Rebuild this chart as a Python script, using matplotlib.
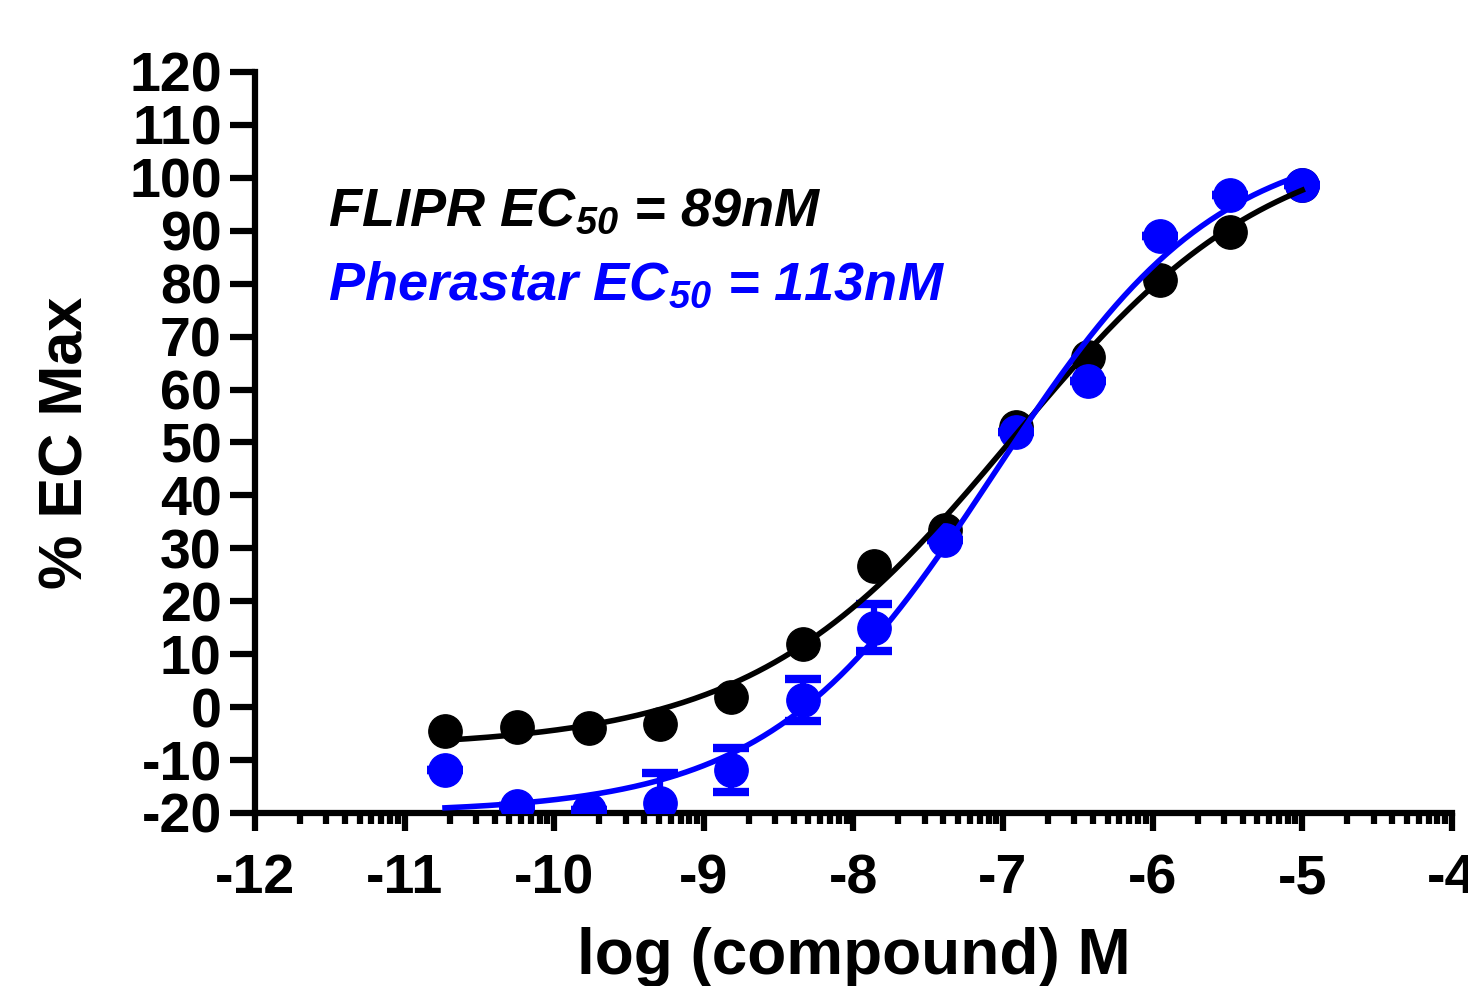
import numpy as np
import matplotlib
matplotlib.use("Agg")
import matplotlib.pyplot as plt

plt.rcParams['font.family'] = ['Liberation Sans', 'DejaVu Sans']
plt.rcParams['mathtext.fontset'] = 'custom'
plt.rcParams['mathtext.rm'] = 'Liberation Sans:italic:bold'
plt.rcParams['mathtext.it'] = 'Liberation Sans:italic:bold'
plt.rcParams['mathtext.bf'] = 'Liberation Sans:italic:bold'

# log concentration (3-fold dilution from 10 uM)
log_conc = [-10.73, -10.25, -9.77, -9.29, -8.82, -8.34, -7.86,
            -7.39, -6.91, -6.43, -5.95, -5.48, -5.00]

# FLIPR response (% EC max)
flipr = [-4.5, -3.8, -3.9, -3.2, 1.9, 11.9, 26.7, 33.5, 52.9, 66.2, 80.7, 89.8, 98.6]

# Pherastar response (% EC max) and SEM
pherastar = [-11.9, -18.7, -19.4, -18.1, -11.9, 1.3, 15.0, 31.6, 52.0, 61.6, 89.0, 96.8, 98.6]
pherastar_err = [0, 0, 0, 5.7, 4.2, 4.0, 4.4, 0, 0, 0, 0, 0, 0]

y_ticks = list(range(-20, 121, 10))
x_ticks = list(range(-12, -3))


# 4 parameter logistic fit: grid search on logEC50 / hill, linear lsq for bottom/top
def fit_4pl(x, y):
    x = np.array(x)
    y = np.array(y)
    best = None
    for lec in np.linspace(-8.5, -6.0, 251):
        for h in np.linspace(0.3, 1.5, 121):
            f = 1.0 / (1.0 + 10 ** ((lec - x) * h))
            A = np.column_stack([1 - f, f])
            coef, res, _, _ = np.linalg.lstsq(A, y, rcond=None)
            err = np.sum((A @ coef - y) ** 2)
            if best is None or err < best[0]:
                best = (err, coef[0], coef[1], lec, h)
    return best[1:]


def curve(x, bottom, top, lec, h):
    return bottom + (top - bottom) / (1.0 + 10 ** ((lec - x) * h))


fig = plt.figure(figsize=(14.68, 9.86), dpi=100)
ax = fig.add_axes([0.1737, 0.1755, 0.8153, 0.7515])

ax.plot(log_conc, flipr, 'o', color='black', markersize=24, zorder=3)
ax.errorbar(log_conc, pherastar, yerr=pherastar_err, fmt='o', color='#0000ff',
            markersize=24, elinewidth=4.5, capsize=13, capthick=6, zorder=4)

xs = np.linspace(log_conc[0], log_conc[-1], 300)
p_black = fit_4pl(log_conc, flipr)
p_blue = fit_4pl(log_conc, pherastar)
ax.plot(xs, curve(xs, *p_black), color='black', lw=4, zorder=5)
ax.plot(xs, curve(xs, *p_blue), color='#0000ff', lw=4, zorder=6)

ax.text(-11.51, 90.9, r"FLIPR EC$_{50}$ = 89nM", fontsize=39, fontweight='bold',
        fontstyle='italic', color='black', va='baseline', ha='left')
ax.text(-11.51, 76.9, r"Pherastar EC$_{50}$ = 113nM", fontsize=39, fontweight='bold',
        fontstyle='italic', color='#0000ff', va='baseline', ha='left')

ax.set_xlim(-12, -4)
ax.set_ylim(-20, 120)
ax.set_xticks(x_ticks)
ax.set_xticklabels([str(t) for t in x_ticks])
ax.set_yticks(y_ticks)
ax.set_yticklabels([str(t) for t in y_ticks])
minor = [d + np.log10(k) for d in range(-12, -4) for k in range(2, 10)]
ax.set_xticks(minor, minor=True)

for s in ['top', 'right']:
    ax.spines[s].set_visible(False)
for s in ['left', 'bottom']:
    ax.spines[s].set_linewidth(4.5)
ax.tick_params(axis='y', which='major', length=18, width=4.5, pad=6, labelsize=40)
ax.tick_params(axis='x', which='major', length=13, width=4.5, pad=16, labelsize=40)
ax.tick_params(axis='x', which='minor', length=8, width=4.5)
for lab in ax.get_xticklabels() + ax.get_yticklabels():
    lab.set_fontweight('bold')

ax.set_xlabel('log (compound) M', fontsize=46, fontweight='bold', labelpad=16)
ax.set_ylabel('% EC Max', fontsize=44, fontweight='bold', labelpad=24)

fig.savefig('out.png', dpi=100)
